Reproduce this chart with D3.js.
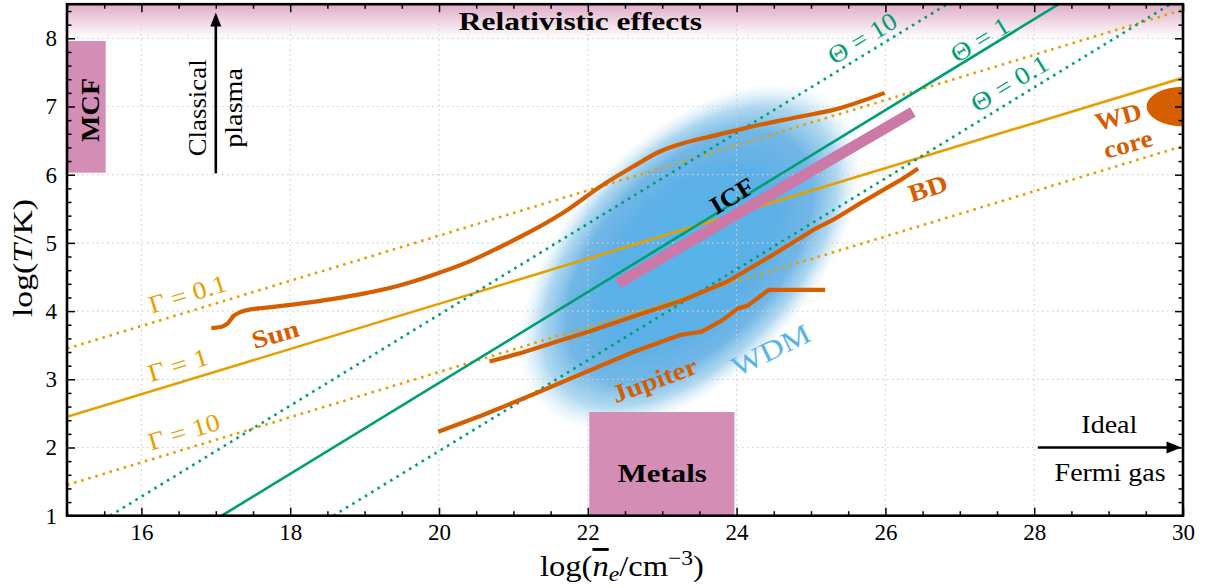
<!DOCTYPE html>
<html><head><meta charset="utf-8">
<script src="https://cdn.jsdelivr.net/npm/d3@7"></script>
<style>body{margin:0;background:#fff} svg{display:block}</style>
</head><body><svg id="c" width="1213" height="588"></svg>
<script>
// ---------------- data ----------------
const xMajorTicks = [16, 18, 20, 22, 24, 26, 28, 30];
const yMajorTicks = [1, 2, 3, 4, 5, 6, 7, 8];

// coupling lines Gamma (end points)
const gamma01 = [[15, 3.45], [30, 8.42]];
const gamma1  = [[15, 2.45], [30, 7.42]];
const gamma10 = [[15, 1.45], [30, 6.42]];
// degeneracy lines Theta
const theta10 = [[15.58, 1], [26.83, 8.5]];
const theta1  = [[17.08, 1], [28.33, 8.5]];
const theta01 = [[18.58, 1], [29.83, 8.5]];

const sunCurve = [[16.94,3.75],[17.08,3.77],[17.16,3.82],[17.24,3.93],[17.34,3.99],[17.50,4.03],[17.68,4.05],
  [18.13,4.11],[18.58,4.18],[19.0,4.26],[19.48,4.38],[19.92,4.53],[20.37,4.71],[20.82,4.94],
  [21.27,5.19],[21.72,5.48],[22.16,5.82],[22.61,6.12],[22.97,6.34],[23.28,6.46],[23.73,6.58],
  [24.18,6.70],[24.85,6.85],[25.30,6.95],[25.99,7.20]];
const bdCurve = [[20.68,3.26],[21.08,3.38],[21.63,3.57],[22.02,3.70],[22.61,3.92],[23.28,4.16],
  [23.87,4.43],[24.45,4.80],[25.03,5.19],[25.30,5.34],[25.66,5.58],[26.20,5.92],[26.44,6.09]];
const jupiterCurve = [[19.99,2.23],[20.60,2.48],[21.27,2.78],[21.94,3.09],[22.61,3.40],
  [23.24,3.65],[23.53,3.70],[23.80,3.86],[24.02,4.04],[24.15,4.08],[24.43,4.31],[25.19,4.31]];
const icfLine = [[22.41, 4.41], [26.37, 6.92]];

const mcfBox = [15.0, 15.52, 6.03, 7.96];      // x0, x1, y0, y1
const metalsBox = [22.02, 23.97, 1.0, 2.52];
const relativisticBand = [15, 30, 8.0, 8.5];
const wdCore = [30.0, 7.0, 0.49, 0.29];          // cx, cy, rx, ry (data units)
const wdmBlob = [23.37, 4.80, 2.85, 1.62];       // cx, cy, semi-major, semi-minor (x units)

// ---------------- setup ----------------
const W = 1213, H = 588;
const L = 67, R = 1183, T = 4.2, B = 515.7;
const x = d3.scaleLinear([15, 30], [L, R]);
const y = d3.scaleLinear([1, 8.5], [B, T]);
const svg = d3.select("#c");
const SERIF = "'Liberation Serif','DejaVu Serif',serif";
const C = {orange:"#D55E00", gold:"#E69F00", green:"#009E73", pink:"#CC79A7", blue:"#56B4E9"};

const defs = svg.append("defs");
defs.append("clipPath").attr("id","clip").append("rect")
  .attr("x", L).attr("y", T).attr("width", R - L).attr("height", B - T);
const rg = defs.append("linearGradient").attr("id","relg").attr("x1",0).attr("y1",0).attr("x2",0).attr("y2",1);
rg.append("stop").attr("offset",0).attr("stop-color",C.pink).attr("stop-opacity",0.62);
rg.append("stop").attr("offset",1).attr("stop-color",C.pink).attr("stop-opacity",0.0);
const bg = defs.append("radialGradient").attr("id","blobg");
bg.append("stop").attr("offset",0).attr("stop-color","#56B4E9").attr("stop-opacity",1);
bg.append("stop").attr("offset",0.5).attr("stop-color","#5cb0e7").attr("stop-opacity",1);
bg.append("stop").attr("offset",0.72).attr("stop-color","#66b0e4").attr("stop-opacity",0.92);
bg.append("stop").attr("offset",0.86).attr("stop-color","#78bde6").attr("stop-opacity",0.6);
bg.append("stop").attr("offset",0.95).attr("stop-color","#9ccfec").attr("stop-opacity",0.2);
bg.append("stop").attr("offset",1).attr("stop-color","#b8dcef").attr("stop-opacity",0);

const plot = svg.append("g").attr("clip-path","url(#clip)");

// relativistic band
plot.append("rect")
  .attr("x", x(relativisticBand[0])).attr("width", x(relativisticBand[1]) - x(relativisticBand[0]))
  .attr("y", y(relativisticBand[3])).attr("height", y(relativisticBand[2]) - y(relativisticBand[3]))
  .attr("fill","url(#relg)");

// WDM blob
{
  const [cx, cy, a, b] = wdmBlob;
  const rx = x(cx + a) - x(cx), ry = x(cx + b) - x(cx);
  plot.append("ellipse").attr("cx", 0).attr("cy", 0).attr("rx", rx).attr("ry", ry)
    .attr("transform", `translate(${x(cx)},${y(cy)}) rotate(-46)`)
    .attr("fill","url(#blobg)");
}

// grid
const grid = plot.append("g").attr("stroke","#cfcfcf").attr("stroke-width",1.2).attr("stroke-dasharray","1.5 3.5");
grid.selectAll(".gx").data(xMajorTicks).join("line")
  .attr("x1", d => x(d)).attr("x2", d => x(d)).attr("y1", T).attr("y2", B);
grid.selectAll(".gy").data(yMajorTicks).join("line")
  .attr("y1", d => y(d)).attr("y2", d => y(d)).attr("x1", L).attr("x2", R);

// boxes
function box(b, fill) {
  plot.append("rect").attr("x", x(b[0])).attr("width", x(b[1]) - x(b[0]))
    .attr("y", y(b[3])).attr("height", y(b[2]) - y(b[3])).attr("fill", fill);
}
box(mcfBox, "#D48DB4");
box(metalsBox, "#D48DB4");

// lines
const line = d3.line().x(d => x(d[0])).y(d => y(d[1]));
function straight(pts, color, dotted) {
  plot.append("path").attr("d", line(pts)).attr("fill","none").attr("stroke", color)
    .attr("stroke-width", 2.6)
    .attr("stroke-dasharray", dotted ? "2.6 4.8" : null);
}
straight(gamma01, C.gold, true);
straight(gamma1, C.gold, false);
straight(gamma10, C.gold, true);
straight(theta10, C.green, true);
straight(theta1, C.green, false);
straight(theta01, C.green, true);

// ICF
plot.append("path").attr("d", line(icfLine)).attr("stroke", C.pink).attr("stroke-width", 11).attr("fill","none");

// orange curves
const smooth = d3.line().x(d => x(d[0])).y(d => y(d[1])).curve(d3.curveMonotoneX);
plot.append("path").attr("d", smooth(sunCurve)).attr("fill","none").attr("stroke", C.orange).attr("stroke-width", 4.2).attr("stroke-linejoin","round");
plot.append("path").attr("d", line(bdCurve)).attr("fill","none").attr("stroke", C.orange).attr("stroke-width", 4.2).attr("stroke-linejoin","round");
plot.append("path").attr("d", line(jupiterCurve)).attr("fill","none").attr("stroke", C.orange).attr("stroke-width", 4.2).attr("stroke-linejoin","round");

// WD core
plot.append("ellipse").attr("cx", x(wdCore[0])).attr("cy", y(wdCore[1]))
  .attr("rx", x(wdCore[0] + wdCore[2]) - x(wdCore[0])).attr("ry", y(wdCore[1] - wdCore[3]) - y(wdCore[1]))
  .attr("fill", C.orange);

// arrows
{
  const ax = x(17), y0 = y(6.02), tip = y(8.38);
  svg.append("line").attr("x1", ax).attr("x2", ax).attr("y1", y0).attr("y2", tip + 10)
    .attr("stroke","#000").attr("stroke-width",2.6);
  svg.append("path").attr("d", `M${ax},${tip} L${ax-5.5},${tip+14} L${ax+5.5},${tip+14} Z`).attr("fill","#000");
  const ay = y(2.0), x0 = x(28.05), tipx = x(29.98);
  svg.append("line").attr("x1", x0).attr("x2", tipx - 10).attr("y1", ay).attr("y2", ay)
    .attr("stroke","#000").attr("stroke-width",2.6);
  svg.append("path").attr("d", `M${tipx},${ay} L${tipx-15},${ay-6} L${tipx-15},${ay+6} Z`).attr("fill","#000");
}

// labels
function label(text, dx, dy, o) {
  const t = svg.append("text")
    .attr("transform", `translate(${x(dx)},${y(dy)}) rotate(${o.angle || 0})`)
    .attr("text-anchor","middle").attr("dominant-baseline","central")
    .attr("font-family", SERIF).attr("font-size", o.size || 25)
    .attr("font-weight", o.bold ? "bold" : "normal")
    .attr("fill", o.fill || "#000").text(text);
  if (o.len) t.attr("textLength", o.len).attr("lengthAdjust","spacingAndGlyphs");
  return t;
}
label("Relativistic effects", 21.90, 8.24, {bold:true, len:243});
label("MCF", 15.32, 6.95, {bold:true, len:64, angle:-90});
label("Metals", 23.00, 1.62, {bold:true, len:89});
label("Classical", 16.76, 6.98, {len:97, angle:-90, size:26});
label("plasma", 17.24, 6.98, {len:80, angle:-90, size:26});
label("Ideal", 29.01, 2.33, {len:56, size:26});
label("Fermi gas", 29.02, 1.64, {len:111, size:26});
label("Sun", 17.80, 3.66, {bold:true, len:48, angle:-16, fill:C.orange});
label("Jupiter", 22.90, 2.99, {bold:true, len:89, angle:-20, fill:C.orange});
label("WDM", 24.46, 3.43, {len:84, angle:-26, size:28, fill:C.blue});
label("ICF", 23.94, 5.69, {bold:true, len:47, angle:-31, fill:"#000"});
label("BD", 26.57, 5.80, {bold:true, len:40, angle:-18, fill:C.orange});
label("WD", 29.13, 6.85, {bold:true, len:47, angle:-15, fill:C.orange});
label("core", 29.26, 6.45, {bold:true, len:50, angle:-16, fill:C.orange});
label("Γ = 0.1", 16.62, 4.25, {len:80, angle:-17, fill:C.gold});
label("Γ = 1", 16.49, 3.21, {len:62, angle:-17, fill:C.gold});
label("Γ = 10", 16.57, 2.23, {len:74, angle:-17, fill:C.gold});
label("Θ = 10", 25.69, 8.00, {len:76, angle:-31.4, fill:C.green});
label("Θ = 1", 27.27, 7.98, {len:64, angle:-31.4, fill:C.green});
label("Θ = 0.1", 27.67, 7.34, {len:86, angle:-31.4, fill:C.green});

// axes
const tickStyle = g => {
  g.select(".domain").remove();
  g.selectAll(".tick line").attr("stroke","#000").attr("stroke-width",1.5);
  g.selectAll(".tick text").attr("font-family", SERIF).attr("font-size", 23).attr("fill","#000");
};
const xMinor = d3.range(15, 30.001, 0.5).filter(v => v % 2 !== 0);
const yMinor = d3.range(1, 8.501, 0.2).filter(v => Math.abs(v - Math.round(v)) > 1e-6);

svg.append("g").attr("transform",`translate(0,${B})`)
  .call(d3.axisBottom(x).tickValues(xMajorTicks).tickSizeInner(-8).tickSizeOuter(0).tickPadding(8).tickFormat(d3.format("d"))).call(tickStyle);
svg.append("g").attr("transform",`translate(0,${B})`)
  .call(d3.axisBottom(x).tickValues(xMinor).tickSizeInner(-4.5).tickSizeOuter(0).tickFormat("")).call(tickStyle);
svg.append("g").attr("transform",`translate(0,${T})`)
  .call(d3.axisTop(x).tickValues(xMajorTicks).tickSizeInner(-8).tickSizeOuter(0).tickFormat("")).call(tickStyle);
svg.append("g").attr("transform",`translate(0,${T})`)
  .call(d3.axisTop(x).tickValues(xMinor).tickSizeInner(-4.5).tickSizeOuter(0).tickFormat("")).call(tickStyle);
svg.append("g").attr("transform",`translate(${L},0)`)
  .call(d3.axisLeft(y).tickValues(yMajorTicks).tickSizeInner(-8).tickSizeOuter(0).tickPadding(10).tickFormat(d3.format("d"))).call(tickStyle);
svg.append("g").attr("transform",`translate(${L},0)`)
  .call(d3.axisLeft(y).tickValues(yMinor).tickSizeInner(-4.5).tickSizeOuter(0).tickFormat("")).call(tickStyle);
svg.append("g").attr("transform",`translate(${R},0)`)
  .call(d3.axisRight(y).tickValues(yMajorTicks).tickSizeInner(-8).tickSizeOuter(0).tickFormat("")).call(tickStyle);
svg.append("g").attr("transform",`translate(${R},0)`)
  .call(d3.axisRight(y).tickValues(yMinor).tickSizeInner(-4.5).tickSizeOuter(0).tickFormat("")).call(tickStyle);

svg.append("rect").attr("x", L).attr("y", T).attr("width", R - L).attr("height", B - T)
  .attr("fill","none").attr("stroke","#000").attr("stroke-width",2.6);

// axis titles
const yt = svg.append("text").attr("transform", `translate(22,258) rotate(-90)`)
  .attr("text-anchor","middle").attr("dominant-baseline","central")
  .attr("font-family", SERIF).attr("font-size", 28).attr("textLength",118).attr("lengthAdjust","spacingAndGlyphs");
yt.append("tspan").text("log(");
yt.append("tspan").attr("font-style","italic").text("T");
yt.append("tspan").text("/K)");

const xt = svg.append("text").attr("x", 622).attr("y", 576)
  .attr("text-anchor","middle").attr("font-family", SERIF).attr("font-size", 29)
  .attr("textLength",164).attr("lengthAdjust","spacingAndGlyphs");
xt.append("tspan").text("log(");
xt.append("tspan").attr("font-style","italic").style("text-decoration","overline").text("n");
xt.append("tspan").attr("font-style","italic").attr("font-size",21).attr("dy",5).text("e");
xt.append("tspan").attr("dy",-5).text("/cm");
xt.append("tspan").attr("font-size",21).attr("dy",-11).text("−3");
xt.append("tspan").attr("dy",11).text(")");
</script></body></html>
